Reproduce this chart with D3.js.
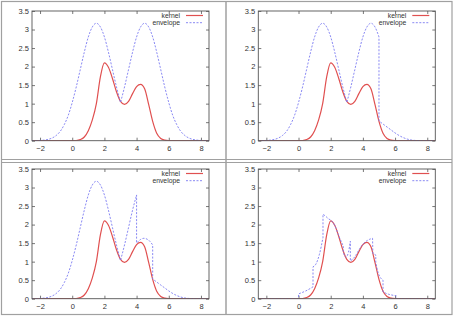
<!DOCTYPE html>
<html>
<head>
<meta charset="utf-8">
<script src="https://cdn.jsdelivr.net/npm/d3@7"></script>
<style>
  body { margin: 0; background: #fff; }
  text { font-family: "Liberation Sans", Arial, sans-serif; }
</style>
</head>
<body>
<script>
// tick values
const xTicks = [-2, 0, 2, 4, 6, 8];
const yTicks = [0, 0.5, 1, 1.5, 2, 2.5, 3, 3.5];
const yTickLabels = ["0", "0.5", "1", "1.5", "2", "2.5", "3", "3.5"];
const legendLabels = ["kernel", "envelope"];

// kernel
const kernelX = [-2.5, 0, 0.25, 0.5, 0.75, 1, 1.25, 1.5, 1.75, 2, 2.25, 2.5, 2.75, 3, 3.25, 3.5, 3.75, 4, 4.25, 4.5, 4.75, 5, 5.25, 5.5, 5.75, 6, 6.25, 8.5];
const kernelY = [0, 0, 0.005, 0.03, 0.1, 0.27, 0.56, 1.0, 1.72, 2.1, 1.98, 1.68, 1.32, 1.06, 0.98, 1.06, 1.27, 1.46, 1.52, 1.4, 0.98, 0.52, 0.2, 0.06, 0.015, 0.003, 0, 0];

// envelope pieces
const leftX = [-2.5, -2.25, -2, -1.75, -1.5, -1.25, -1, -0.75, -0.5, -0.25, 0, 0.25, 0.5, 0.75, 1, 1.25, 1.5, 1.75, 2, 2.25, 2.5, 2.75, 3];
const leftY = [0.001, 0.003, 0.007, 0.016, 0.035, 0.072, 0.14, 0.25, 0.43, 0.68, 1.03, 1.45, 1.92, 2.39, 2.8, 3.07, 3.17, 3.07, 2.8, 2.39, 1.92, 1.45, 1.03];
const riseX = [3, 3.25, 3.5, 3.75, 4];
const riseY = [1.03, 1.45, 1.92, 2.39, 2.8];
const topX = [4, 4.25, 4.5, 4.75, 5];
const topY = [2.8, 3.07, 3.17, 3.07, 2.8];
const fallX = [5, 5.25, 5.5, 5.75, 6, 6.25, 6.5, 6.75, 7, 7.25, 7.5, 7.75, 8, 8.25, 8.5];
const fallY = [2.8, 2.39, 1.92, 1.45, 1.03, 0.68, 0.43, 0.25, 0.14, 0.072, 0.035, 0.016, 0.007, 0.003, 0.001];
const tailX = [5, 5.25, 5.5, 5.75, 6, 6.25, 6.5, 6.75, 7, 7.25, 7.5, 8.5];
const tailY = [0.53, 0.45, 0.37, 0.29, 0.21, 0.14, 0.085, 0.045, 0.02, 0.007, 0.002, 0];
const midX = [4, 4.25, 4.45, 4.75, 5];
const midY = [1.5, 1.6, 1.63, 1.58, 1.45];

// last panel, many small pieces
const fineX = [
  [-2.5, 0],
  [0, 0.45, 0.9],
  [0.9, 1.1, 1.3, 1.52],
  [1.52, 1.7, 1.85, 2.0, 2.25, 2.5, 2.78],
  [2.78, 2.95, 3.1, 3.22],
  [3.22, 3.4, 3.6, 3.8, 4.0, 4.2, 4.4, 4.6],
  [4.62, 4.8],
  [4.8, 4.95, 5.25],
  [5.25, 5.6, 6.07],
  [6.07, 8.5]
];
const fineY = [
  [0, 0],
  [0.13, 0.21, 0.32],
  [0.86, 0.95, 1.2, 1.65],
  [2.28, 2.22, 2.16, 2.12, 1.98, 1.7, 1.42],
  [1.25, 1.12, 1.25, 1.55],
  [1.02, 1.08, 1.2, 1.35, 1.47, 1.55, 1.6, 1.63],
  [1.22, 1.18],
  [0.98, 0.7, 0.5],
  [0.18, 0.12, 0.08],
  [0, 0]
];

function pts(xs, ys) { return xs.map((v, i) => [v, ys[i]]); }
function cat(...parts) {
  let out = [];
  parts.forEach(p => { out = out.length ? out.concat(p.slice(1)) : p.slice(); });
  return out;
}

const left = pts(leftX, leftY), rise = pts(riseX, riseY), top_ = pts(topX, topY);
const fall = pts(fallX, fallY), tail = pts(tailX, tailY), mid = pts(midX, midY);

const envelopes = [
  [left, cat(rise, top_, fall)],
  [left, cat(rise, top_), tail],
  [left, rise, mid, tail],
  fineX.map((xs, i) => pts(xs, fineY[i]))
];
const offsets = [[0, 0], [226.3, 0], [0, 158], [226.3, 158]];

const W = 455, H = 317;
const svg = d3.select("body").append("svg").attr("width", W).attr("height", H);

const red = "#e05050", blue = "#7c7cf2";

// frames
svg.append("rect").attr("x", 1.5).attr("y", 1.5).attr("width", 450.5).attr("height", 313)
  .attr("fill", "none").attr("stroke", "#a0a0a0").attr("stroke-width", 1.2);
svg.append("line").attr("x1", 226).attr("x2", 226).attr("y1", 1).attr("y2", 315)
  .attr("stroke", "#a0a0a0").attr("stroke-width", 1.5);
[159.5, 162.5].forEach(yy => {
  svg.append("line").attr("x1", 1).attr("x2", 452).attr("y1", yy).attr("y2", yy)
    .attr("stroke", "#a0a0a0").attr("stroke-width", 1.2);
});

const x = d3.scaleLinear().domain([-2.5, 8.5]).range([32, 209]);
const y = d3.scaleLinear().domain([0, 3.5]).range([140.7, 11]);

const line = d3.line().x(d => x(d[0])).y(d => y(d[1])).curve(d3.curveMonotoneX);

function joined(pieces) {
  return pieces.map((p, i) => {
    const s = line(p);
    return i === 0 ? s : "L" + s.slice(1);
  }).join("");
}

offsets.forEach((o, k) => {
  const g = svg.append("g").attr("transform", `translate(${o[0]},${o[1]})`);

  g.append("clipPath").attr("id", "clip" + k)
    .append("rect").attr("x", 32).attr("y", 11).attr("width", 177).attr("height", 129.7);

  // axes with inward ticks, mirrored
  const ax = g.append("g").attr("transform", "translate(0,140.7)")
    .call(d3.axisBottom(x).tickValues(xTicks).tickSizeInner(-3).tickSizeOuter(0).tickPadding(4.5));
  const axt = g.append("g").attr("transform", "translate(0,11)")
    .call(d3.axisTop(x).tickValues(xTicks).tickSizeInner(-3).tickSizeOuter(0).tickFormat(""));
  const ay = g.append("g").attr("transform", "translate(32,0)")
    .call(d3.axisLeft(y).tickValues(yTicks).tickSizeInner(-3).tickSizeOuter(0).tickPadding(3)
      .tickFormat((d, i) => yTickLabels[i]));
  const ayr = g.append("g").attr("transform", "translate(209,0)")
    .call(d3.axisRight(y).tickValues(yTicks).tickSizeInner(-3).tickSizeOuter(0).tickFormat(""));
  [ax, axt, ay, ayr].forEach(a => {
    a.select(".domain").remove();
    a.selectAll("line").attr("stroke", "#555").attr("stroke-width", 0.8);
    a.selectAll("text").attr("font-size", 7.5).attr("fill", "#333")
      .attr("font-family", "'Liberation Sans', Arial, sans-serif");
  });

  const plot = g.append("g").attr("clip-path", `url(#clip${k})`);
  plot.append("path").attr("d", line(pts(kernelX, kernelY)))
    .attr("fill", "none").attr("stroke", red).attr("stroke-width", 1.2);
  plot.append("path").attr("d", joined(envelopes[k]))
    .attr("fill", "none").attr("stroke", blue).attr("stroke-width", 0.9)
    .attr("stroke-dasharray", "2,1.5");

  g.append("rect").attr("x", 32).attr("y", 11).attr("width", 177).attr("height", 129.7)
    .attr("fill", "none").attr("stroke", "#555").attr("stroke-width", 0.9);

  // legend
  const styles = [
    { stroke: red, w: 1.2, dash: null },
    { stroke: blue, w: 0.9, dash: "2,1.5" }
  ];
  legendLabels.forEach((lab, i) => {
    const ly = 15.5 + i * 7.2;
    g.append("text").attr("x", 180).attr("y", ly).attr("dy", "0.35em")
      .attr("text-anchor", "end").attr("font-size", 6.8).attr("fill", "#333").text(lab);
    g.append("line").attr("x1", 186).attr("x2", 203).attr("y1", ly).attr("y2", ly)
      .attr("stroke", styles[i].stroke).attr("stroke-width", styles[i].w)
      .attr("stroke-dasharray", styles[i].dash);
  });
});
</script>
</body>
</html>
